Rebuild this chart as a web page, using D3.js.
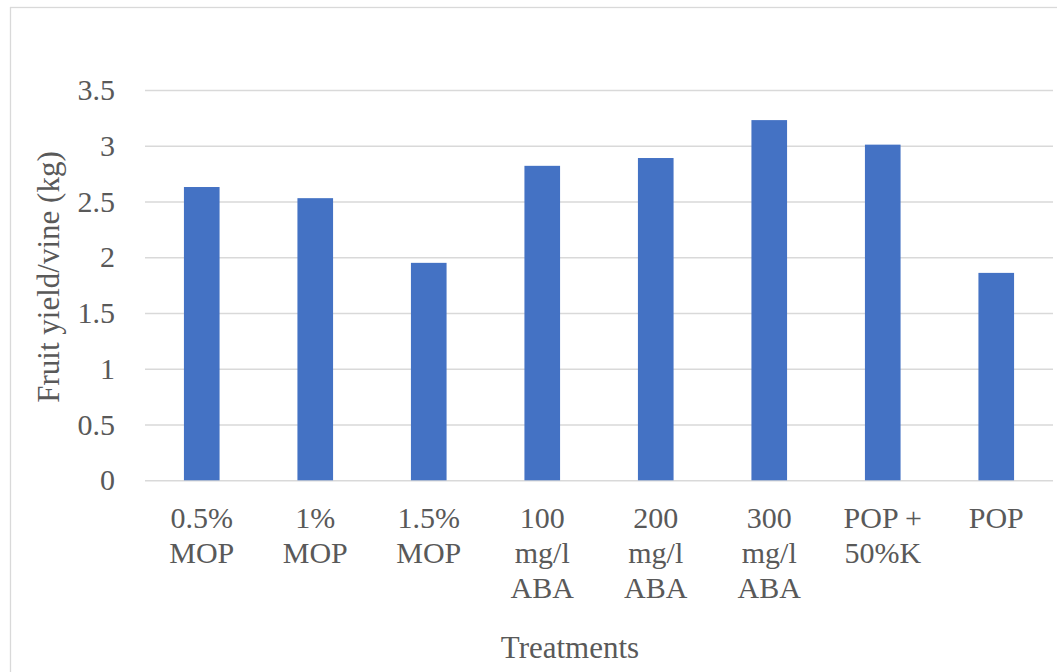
<!DOCTYPE html>
<html>
<head>
<meta charset="utf-8">
<script src="https://cdn.jsdelivr.net/npm/d3@7"></script>
<style>
  html, body { margin: 0; padding: 0; background: #ffffff; }
  svg { display: block; }
  svg text { font-family: "Liberation Serif", "Times New Roman", serif !important; }
</style>
</head>
<body>
<svg id="chart" width="1057" height="672"></svg>
<script>
// Fruit yield per vine under each treatment
const treatments = [
  ["0.5%", "MOP"],
  ["1%", "MOP"],
  ["1.5%", "MOP"],
  ["100", "mg/l", "ABA"],
  ["200", "mg/l", "ABA"],
  ["300", "mg/l", "ABA"],
  ["POP +", "50%K"],
  ["POP"]
];
const yieldKg = [2.63, 2.53, 1.95, 2.82, 2.89, 3.23, 3.01, 1.86];
const yTicks = [0, 0.5, 1, 1.5, 2, 2.5, 3, 3.5];
const yTitle = "Fruit yield/vine (kg)";
const xTitle = "Treatments";

const INK = "#595959";
const TICK_SIZE = 30;

const svg = d3.select("#chart");
const keys = treatments.map(t => t.join(" "));

const x = d3.scaleBand()
  .domain(keys)
  .range([145, 1053])
  .paddingInner(0.686)
  .paddingOuter(0.343);

const y = d3.scaleLinear()
  .domain([0, 3.5])
  .range([480.3, 90]);

// chart frame
svg.append("rect")
  .attr("x", 10.5).attr("y", 7.5)
  .attr("width", 1100).attr("height", 700)
  .attr("fill", "none")
  .attr("stroke", "#d9d9d9")
  .attr("stroke-width", 1.3);

// gridlines and value labels
const yAxis = d3.axisLeft(y)
  .tickValues(yTicks)
  .tickSize(-(1053 - 145))
  .tickPadding(30)
  .tickFormat(d => String(d));

const gy = svg.append("g")
  .attr("transform", "translate(145,0)")
  .call(yAxis)
  .attr("font-family", null)
  .attr("font-size", TICK_SIZE);
gy.select(".domain").remove();
gy.selectAll(".tick line")
  .attr("stroke", "#d9d9d9")
  .attr("stroke-width", 1.6);
gy.selectAll(".tick text")
  .attr("font-size", TICK_SIZE)
  .attr("fill", INK);

// bars
svg.append("g")
  .selectAll("rect")
  .data(yieldKg)
  .join("rect")
  .attr("x", (d, i) => x(keys[i]))
  .attr("y", d => y(d))
  .attr("width", x.bandwidth())
  .attr("height", d => y(0) - y(d))
  .attr("fill", "#4472c4");

// category labels, one line per part
const lineH = 35;
const labels = svg.append("g");
treatments.forEach((lines, i) => {
  const cx = x(keys[i]) + x.bandwidth() / 2;
  const t = labels.append("text")
    .attr("x", cx)
    .attr("y", 528)
    .attr("text-anchor", "middle")
    .attr("font-size", TICK_SIZE)
    .attr("fill", INK);
  lines.forEach((s, j) => {
    t.append("tspan")
      .attr("x", cx)
      .attr("y", 528 + j * lineH)
      .text(s);
  });
});

// axis titles
svg.append("text")
  .attr("x", 570)
  .attr("y", 658)
  .attr("text-anchor", "middle")
  .attr("font-size", 31)
  .attr("fill", INK)
  .text(xTitle);

svg.append("text")
  .attr("transform", "translate(59,277) rotate(-90)")
  .attr("text-anchor", "middle")
  .attr("font-size", 31)
  .attr("fill", INK)
  .text(yTitle);
</script>
</body>
</html>
